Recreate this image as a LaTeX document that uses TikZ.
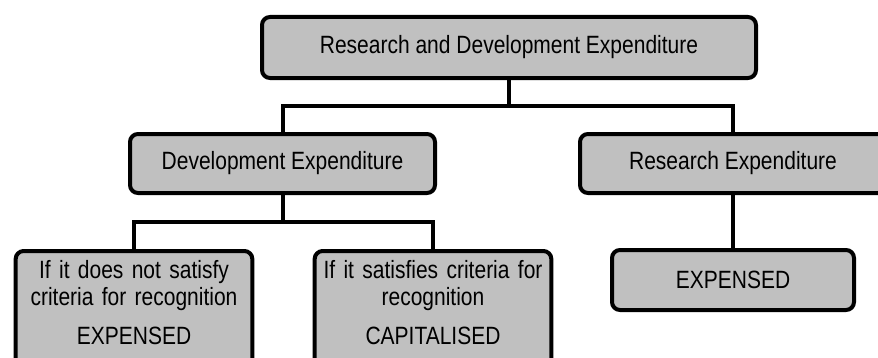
\documentclass[tikz,border=0pt]{standalone}
\usepackage{fontspec}
\setmainfont[FakeStretch=0.84]{Liberation Sans}
\usetikzlibrary{positioning, calc}

\definecolor{boxgray}{RGB}{192,192,192}

\begin{document}
\begin{tikzpicture}[
    x=1pt, y=1pt,
    node distance=52pt,
    block/.style={
        rectangle, rounded corners=8pt,
        draw=black, line width=4pt,
        fill=boxgray,
        minimum height=59pt,
        font=\fontsize{25}{27}\selectfont
    },
    outcome/.style={
        block, anchor=north,
        align=center, text width=230pt,
        inner ysep=9pt
    },
    link/.style={
        line width=4pt, line join=miter
    }
]

% Page
\useasboundingbox (0,0) rectangle (878,357);
\clip (0,0) rectangle (878,357);

% Root
\node[block, minimum width=494pt, minimum height=61pt] (rd) at (509,309.5) {Research and Development Expenditure};

% Second level
\node[block, minimum width=305pt, below=of rd, xshift=-226.5pt] (dev) {Development Expenditure};
\node[block, minimum width=306pt, below=of rd, xshift=224pt] (res) {Research Expenditure};

% Outcomes (boxes run off the bottom edge)
\node[outcome, below=54pt of dev, xshift=-148.5pt] (notmet) {If it does not satisfy\\criteria for recognition\\[12pt]EXPENSED\\\mbox{}};
\node[outcome, below=54pt of dev, xshift=150.5pt] (met) {If it satisfies criteria for\\recognition\\[12pt]CAPITALISED\\\mbox{}};
\node[block, minimum width=242pt, minimum height=60pt, below=53pt of res] (resexp) {EXPENSED};

% Junctions
\coordinate (tee1) at ($(rd.south)!0.5!(rd.south |- dev.north)$);
\coordinate (tee2) at ($(dev.south)!0.5!(dev.south |- notmet.north)$);

% Links
\draw[link] (rd.south) -- (tee1);
\draw[link] (dev.north) |- (tee1) -| (res.north);
\draw[link] (dev.south) -- (tee2);
\draw[link] (notmet.north) |- (tee2) -| (met.north);
\draw[link] (res.south) -- (resexp.north);

\end{tikzpicture}
\end{document}
